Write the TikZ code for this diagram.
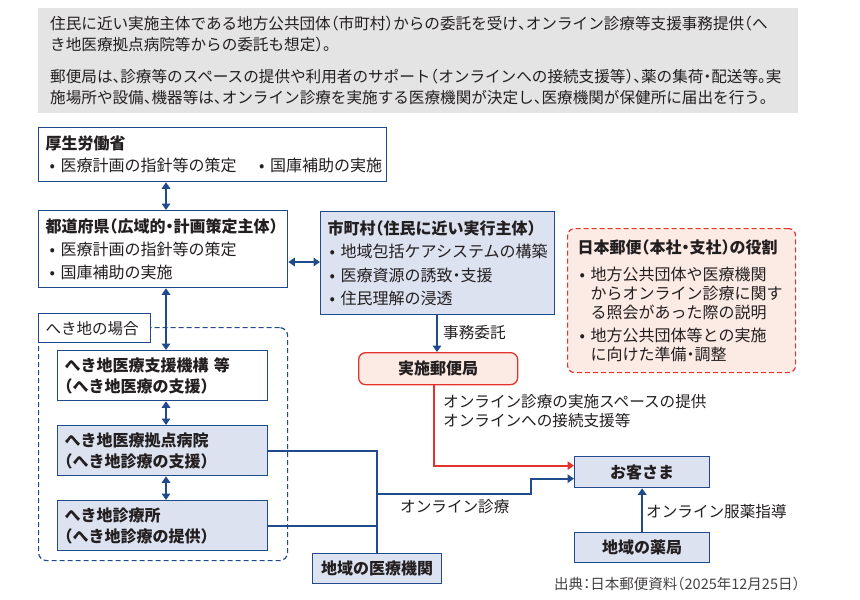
\documentclass[tikz,border=0pt]{standalone}
\usepackage{fontspec}
\setmainfont{Noto Sans CJK JP}
\usetikzlibrary{arrows.meta,calc}
\definecolor{navy}{HTML}{1F4A8C}
\definecolor{paleblue}{HTML}{DDE2F0}
\definecolor{notegray}{HTML}{E4E4E4}
\definecolor{alert}{HTML}{E5322D}
\definecolor{palepink}{HTML}{FCEAE4}
\definecolor{ink}{HTML}{231F20}
% half-width punctuation
\newcommand\hw[1]{{\addfontfeature{RawFeature=+halt}#1}}
% bullet item and continuation indent (no line breaks inside)
\newcommand\itm{\hspace*{0.25em}•\nobreak\hspace{0.35em}\nobreak}
\newcommand\cont{\hspace*{0.25em}\phantom{•}\nobreak\hspace{0.35em}\nobreak}

\begin{document}
\begin{tikzpicture}[x=1pt,y=-1pt,
  every node/.style={font=\fontsize{16}{22}\selectfont, text=ink},
  panel/.style={draw=navy, line width=1.3pt, fill=white, anchor=north west,
    align=left, inner xsep=7pt, inner ysep=3pt},
  shaded/.style={panel, fill=paleblue},
  titlebox/.style={align=center, font=\bfseries\fontsize{16}{20}\selectfont},
  link/.style={draw=navy, line width=1.9pt},
  twoway/.style={link, {Triangle[width=8.5pt,length=6.5pt]}-{Triangle[width=8.5pt,length=6.5pt]}},
  oneway/.style={link, -{Triangle[width=8.5pt,length=6.5pt]}},
  caption/.style={anchor=west, inner sep=0pt, font=\fontsize{15.6}{19.5}\selectfont}]
\useasboundingbox (0,0) rectangle (860,600);

% explanatory note
\node[fill=notegray, anchor=north west, minimum width=760pt, minimum height=105pt,
  text width=736pt, inner xsep=12pt, align=left,
  font=\fontsize{15.6}{21}\selectfont] (note) at (38,8)
  {住民に近い実施主体である地方公共団体\hw{（}市町村\hw{）}からの委託を受け\hw{、}オンライン診療等支援事務提供\hw{（}へ\\
   き地医療拠点病院等からの委託も想定\hw{）}\hw{。}\\[11pt]
   郵便局は\hw{、}診療等のスペースの提供や利用者のサポート\hw{（}オンラインへの接続支援等\hw{）}\hw{、}薬の集荷\hw{・}配送等\hw{。}実\\
   施場所や設備\hw{、}機器等は\hw{、}オンライン診療を実施する医療機関が決定し\hw{、}医療機関が保健所に届出を行う\hw{。}};

% administrative bodies
\node[panel, text width=334pt, minimum height=54pt] (mhlw) at (38,127)
  {\textbf{厚生労働省}\\
   \itm 医療計画の指針等の策定\nobreak\hspace{1.4em}\nobreak•\nobreak\hspace{0.35em}\nobreak 国庫補助の実施};
\node[panel, text width=235pt, minimum height=77pt, font=\fontsize{16}{23}\selectfont] (pref) at (38,210)
  {\textbf{都道府県\hw{（}広域的\hw{・}計画策定主体\hw{）}}\\
   \itm 医療計画の指針等の策定\\
   \itm 国庫補助の実施};
\node[shaded, text width=224pt, inner xsep=5pt, minimum height=103pt, font=\fontsize{16}{23.3}\selectfont] (muni) at (320,211)
  {\textbf{\hspace*{2pt}市町村\hw{（}住民に近い実行主体\hw{）}}\\
   \itm 地域包括ケアシステムの構築\\
   \itm 医療資源の誘致\hw{・}支援\\
   \itm 住民理解の浸透};

% role of Japan Post
\node[draw=alert, dashed, dash pattern=on 5pt off 3pt, line width=1.2pt, rounded corners=7pt,
  fill=palepink, anchor=north west, align=left, text width=212pt, inner xsep=8pt,
  minimum height=144pt, font=\fontsize{16}{19}\selectfont] (jp) at (567,228)
  {\textbf{\hspace*{2pt}日本郵便\hw{（}本社\hw{・}支社\hw{）}の役割}\\[8pt]
   \itm 地方公共団体や医療機関\\
   \cont からオンライン診療に関す\\
   \cont る照会があった際の説明\\[4pt]
   \itm 地方公共団体等との実施\\
   \cont に向けた準備\hw{・}調整};

% remote-area group
\node[draw=navy, dashed, dash pattern=on 5pt off 3pt, line width=1.2pt, rounded corners=8pt,
  anchor=north west, minimum width=249pt, minimum height=233pt] (remote) at (38,327) {};
\node[panel, text width=98pt, minimum height=29pt, font=\fontsize{15.5}{20}\selectfont] (remotetag) at (38,313) {へき地の場合};
\node[panel, text width=196pt, minimum height=50pt, font=\bfseries\fontsize{16}{21}\selectfont] (shien) at (57,350)
  {へき地医療支援機構 等\\\hw{（}へき地医療の支援\hw{）}};
\node[shaded, text width=196pt, minimum height=50pt, font=\bfseries\fontsize{16}{21}\selectfont] (kyoten) at (57,425)
  {へき地医療拠点病院\\\hw{（}へき地診療の支援\hw{）}};
\node[shaded, text width=196pt, minimum height=50pt, font=\bfseries\fontsize{16}{21}\selectfont] (shinryo) at (57,500)
  {へき地診療所\\\hw{（}へき地診療の提供\hw{）}};

% service side
\node[shaded, titlebox, text width=115pt, minimum height=30pt] (iryo) at (312,553) {地域の医療機関};
\node[draw=alert, line width=1.3pt, fill=palepink, rounded corners=7pt, anchor=north west,
  titlebox, text width=145pt, inner xsep=7pt, minimum height=32pt] (post) at (358,352) {実施郵便局};
\node[shaded, titlebox, text width=121pt, minimum height=31pt] (cust) at (574,456) {お客さま};
\node[shaded, titlebox, text width=121pt, minimum height=30pt] (pharm) at (574,532) {地域の薬局};

% routing helpers
\coordinate (colA) at (166,0);
\coordinate (rowB) at (0,262);
\coordinate (colC) at (437,0);
\coordinate (colR) at (434,0);
\coordinate (rowJ) at (0,494);
\coordinate (colK) at (531,0);
\coordinate (custhi) at ([yshift=6.5pt]cust.west);
\coordinate (custlo) at ([yshift=-6.5pt]cust.west);

% connectors
\draw[twoway] (mhlw.south -| colA) -- (pref.north -| colA);
\draw[twoway] (pref.east |- rowB) -- (muni.west |- rowB);
\draw[twoway] (pref.south -| colA) -- (shien.north -| colA);
\draw[twoway] (shien.south -| colA) -- (kyoten.north -| colA);
\draw[twoway] (kyoten.south -| colA) -- (shinryo.north -| colA);
\draw[oneway] (muni.south -| colC) -- (post.north -| colC);
\draw[oneway, draw=alert] (post.south -| colR) |- (custhi);
\draw[link] (kyoten.east) -| (iryo.north);
\draw[link] (shinryo.east) -- (shinryo.east -| iryo.north);
\draw[oneway] (iryo.north |- rowJ) -| (custlo -| colK) -- (custlo);
\draw[oneway] (pharm.north) -- (cust.south);

% connector labels
\node[caption] (lbljimu) at (443,333) {事務委託};
\node[caption, align=left] (lblspace) at (443,411)
  {オンライン診療の実施スペースの提供\\オンラインへの接続支援等};
\node[caption] (lblonline) at (400,507) {オンライン診療};
\node[caption] (lblpharm) at (646,512) {オンライン服薬指導};

% source
\node[anchor=east, inner sep=0pt, text=ink!85, font=\fontsize{14.5}{17}\selectfont] (src) at (800,584)
  {出典\hw{：}日本郵便資料\hw{（}2025年12月25日\hw{）}};
\end{tikzpicture}
\end{document}
